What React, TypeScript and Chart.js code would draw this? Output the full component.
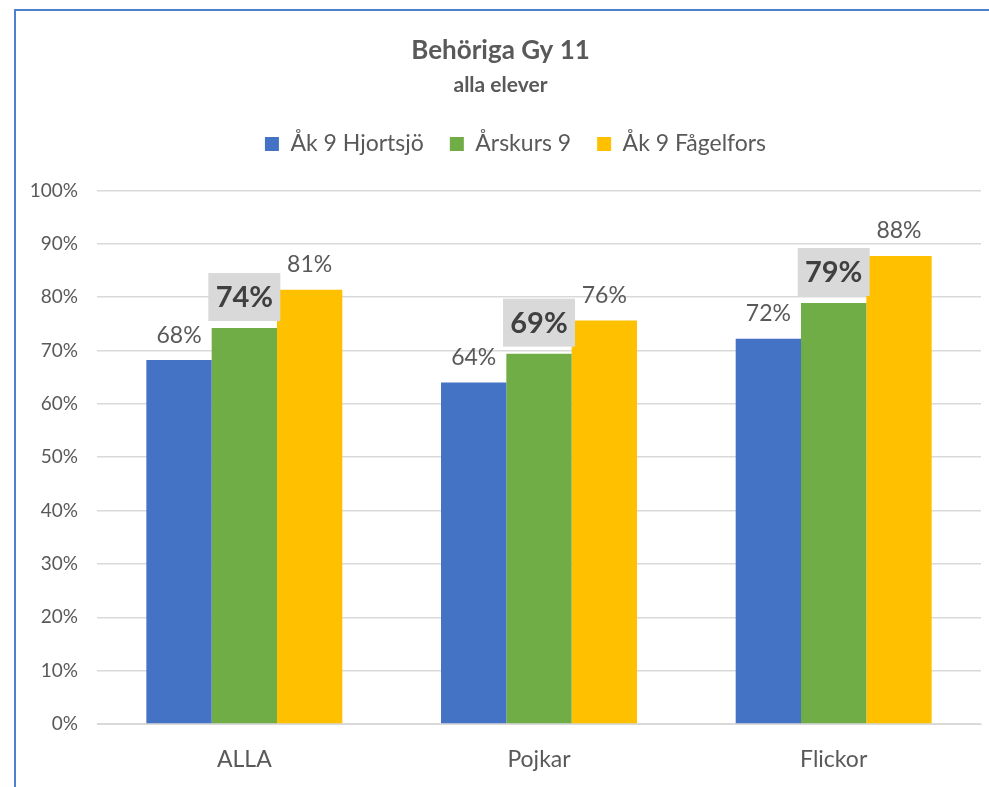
import React, { useEffect, useRef } from "react";
import { Chart, registerables } from "chart.js";

Chart.register(...registerables);

const categories = ["ALLA", "Pojkar", "Flickor"];
const seriesNames = ["Åk 9 Hjortsjö", "Årskurs 9", "Åk 9 Fågelfors"];
const hjortsjo = [0.682, 0.64, 0.722];
const arskurs9 = [0.742, 0.694, 0.789];
const fagelfors = [0.814, 0.756, 0.877];
const colors = ["#4472C4", "#70AD47", "#FFC000"];
const yTicks = [0, 0.1, 0.2, 0.3, 0.4, 0.5, 0.6, 0.7, 0.8, 0.9, 1.0];

const FONT = "Lato, 'Open Sans', sans-serif";

const framePlugin = {
  id: "frame",
  beforeDraw(chart: any) {
    const ctx = chart.ctx;
    ctx.save();
    ctx.fillStyle = "#ffffff";
    ctx.fillRect(0, 0, chart.width, chart.height);
    ctx.strokeStyle = "#4F7FD0";
    ctx.lineWidth = 2;
    ctx.beginPath();
    ctx.moveTo(15, chart.height);
    ctx.lineTo(15, 10);
    ctx.lineTo(chart.width, 10);
    ctx.stroke();
    ctx.restore();
  },
};

const legendMargin = {
  id: "legendMargin",
  beforeInit(chart: any) {
    const fit = chart.legend.fit;
    chart.legend.fit = function () {
      fit.bind(chart.legend)();
      this.height += 25;
    };
  },
  afterLayout(chart: any) {
    chart.legend.left += 15;
    chart.legend.right += 15;
  },
};

const labelPlugin = {
  id: "valueLabels",
  afterDatasetsDraw(chart: any) {
    const ctx = chart.ctx;
    ctx.save();
    chart.data.datasets.forEach((ds: any, di: number) => {
      const meta = chart.getDatasetMeta(di);
      meta.data.forEach((bar: any, i: number) => {
        const v = ds.data[i];
        const txt = Math.round(v * 100) + "%";
        const x = bar.x;
        const top = bar.y;
        if (di === 1) {
          ctx.font = `bold 29px ${FONT}`;
          const w = 72;
          const h = 48;
          ctx.fillStyle = "#D9D9D9";
          ctx.fillRect(x - w / 2, top - 7 - h, w, h);
          ctx.fillStyle = "#404040";
          ctx.textAlign = "center";
          ctx.textBaseline = "middle";
          ctx.fillText(txt, x, top - 7 - h / 2 + 1);
        } else {
          ctx.font = `23px ${FONT}`;
          ctx.fillStyle = "#595959";
          ctx.textAlign = "center";
          ctx.textBaseline = "middle";
          ctx.fillText(txt, x, top - 25);
        }
      });
    });
    ctx.restore();
  },
};

export default function App() {
  const ref = useRef<HTMLCanvasElement>(null);
  useEffect(() => {
    document.body.style.margin = "0";
    const chart = new Chart(ref.current!, {
      type: "bar",
      data: {
        labels: categories,
        datasets: [hjortsjo, arskurs9, fagelfors].map((d, i) => ({
          label: seriesNames[i],
          data: d,
          backgroundColor: colors[i],
          borderWidth: 0,
          categoryPercentage: 0.665,
          barPercentage: 1.0,
        })),
      },
      options: {
        animation: false,
        responsive: false,
        layout: { padding: { left: 20, right: 8, top: 10, bottom: 0 } },
        plugins: {
          title: {
            display: true,
            text: "Behöriga Gy 11",
            color: "#595959",
            font: { family: FONT, size: 26, weight: "bold" },
            padding: { top: 25, bottom: 6 },
          },
          subtitle: {
            display: true,
            text: "alla elever",
            color: "#595959",
            font: { family: FONT, size: 21, weight: "bold" },
            padding: { top: 0, bottom: 9 },
          },
          legend: {
            display: true,
            position: "top",
            labels: {
              color: "#595959",
              font: { family: FONT, size: 23 },
              boxWidth: 14,
              boxHeight: 14,
              padding: 26,
            },
          },
          tooltip: { enabled: false },
        },
        scales: {
          x: {
            afterFit(scale: any) {
              scale.height = 63;
            },
            grid: { display: false, drawTicks: false },
            border: { display: true, color: "#D9D9D9" },
            ticks: {
              color: "#595959",
              font: { family: FONT, size: 23 },
              padding: 22,
            },
          },
          y: {
            min: 0,
            max: 1,
            afterFit(scale: any) {
              scale.width = 77;
            },
            afterBuildTicks(scale: any) {
              scale.ticks = yTicks.map((v) => ({ value: v }));
            },
            grid: { color: "#D9D9D9", lineWidth: 1.5, drawTicks: false },
            border: { display: false },
            ticks: {
              color: "#595959",
              font: { family: FONT, size: 19 },
              padding: 19,
              callback: (v: any) => Math.round(Number(v) * 100) + "%",
            },
          },
        },
      },
      plugins: [framePlugin, legendMargin, labelPlugin],
    } as any);
    return () => chart.destroy();
  }, []);
  return (
    <div style={{ width: 989, height: 787 }}>
      <canvas ref={ref} width={989} height={787} style={{ display: "block" }} />
    </div>
  );
}
